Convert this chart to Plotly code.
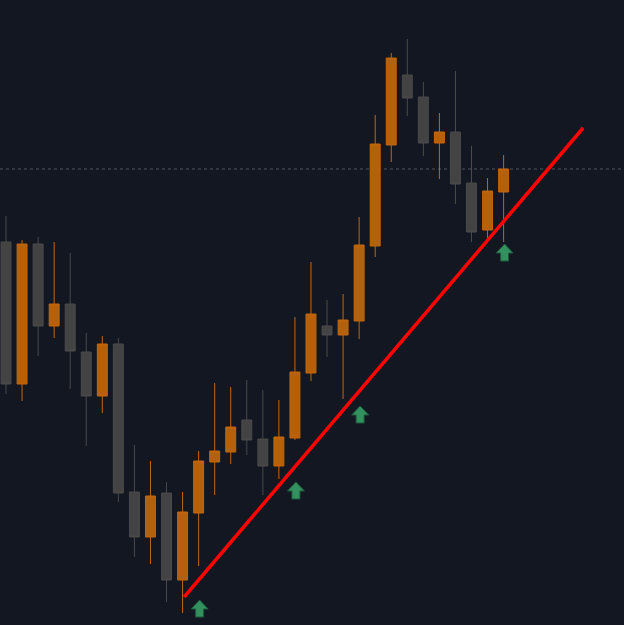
import plotly.graph_objects as go

# Candle index positions and OHLC prices
idx = list(range(32))
opens = [138.3, 124.1, 138.1, 129.9, 132.1, 127.3, 122.9, 128.1, 113.3, 108.8,
         113.2, 104.5, 111.2, 116.3, 117.3, 120.5, 118.6, 115.9, 118.7, 125.2,
         129.9, 129.0, 130.4, 137.9, 148.0, 155.0, 152.8, 148.2, 149.3, 144.2,
         139.5, 143.3]
highs = [140.9, 138.5, 138.8, 138.3, 137.2, 129.2, 128.9, 128.7, 118.0, 116.4,
         114.3, 113.3, 117.4, 124.2, 123.8, 124.5, 123.5, 122.5, 130.8, 136.3,
         132.5, 133.1, 140.8, 151.0, 157.2, 158.6, 154.3, 151.2, 155.4, 147.9,
         144.7, 147.0]
lows = [123.1, 122.4, 126.9, 128.7, 123.6, 117.9, 121.2, 112.3, 106.8, 106.1,
        102.3, 101.2, 105.9, 113.0, 116.1, 117.0, 113.0, 114.6, 118.5, 124.4,
        126.8, 122.6, 128.6, 136.8, 146.3, 150.9, 146.9, 144.6, 142.1, 138.3,
        138.7, 138.3]
closes = [124.1, 138.1, 129.9, 132.1, 127.4, 122.9, 128.1, 113.2, 108.8, 112.9,
          104.5, 111.3, 116.4, 117.4, 119.8, 118.5, 115.9, 118.8, 125.3, 131.1,
          129.0, 130.5, 138.0, 148.1, 156.7, 152.7, 148.2, 149.3, 144.1, 139.3,
          143.4, 145.6]

# Trend line end points
trend_x = [11.1, 35.95]
trend_y = [102.8, 149.7]

# Buy signal arrows (candle index, price of arrow tip)
arrow_x = [12, 18, 22, 31]
arrow_y = [102.5, 114.3, 121.9, 138.1]

BG = "#131722"
UP = "#b5600a"
UP_LINE = "#c2670c"
DOWN = "#434343"
DOWN_LINE = "#4a4a4a"

fig = go.Figure()

fig.add_trace(go.Candlestick(
    x=idx, open=opens, high=highs, low=lows, close=closes,
    increasing=dict(fillcolor=UP, line=dict(color=UP_LINE, width=1)),
    decreasing=dict(fillcolor=DOWN, line=dict(color=DOWN_LINE, width=1)),
    whiskerwidth=0,
    showlegend=False,
    hoverinfo="skip",
))

fig.add_trace(go.Scatter(
    x=trend_x, y=trend_y, mode="lines",
    line=dict(color="#ff0000", width=3.5),
    showlegend=False, hoverinfo="skip",
))

# Dotted line at last close
fig.add_shape(type="line", xref="paper", x0=0, x1=1, yref="y",
              y0=closes[-1], y1=closes[-1],
              line=dict(color="#50555f", width=1, dash="dot"), layer="below")

arrow_path = ("M 1,0 L 9.5,-9 L 5,-9 L 5,-17 L -3,-17 L -3,-9 L -7.5,-9 Z")
for ax_, ay_ in zip(arrow_x, arrow_y):
    fig.add_shape(type="path", xref="x", yref="y",
                  xsizemode="pixel", ysizemode="pixel",
                  xanchor=ax_, yanchor=ay_, path=arrow_path,
                  fillcolor="#33905f", line=dict(color="#1f5a3b", width=1),
                  layer="above")

fig.update_layout(
    width=624, height=625,
    margin=dict(l=0, r=0, t=0, b=0),
    paper_bgcolor=BG, plot_bgcolor=BG,
    boxgap=0.38, boxgroupgap=0,
    xaxis=dict(range=[-0.374, 38.5], visible=False, showgrid=False,
               rangeslider=dict(visible=False), fixedrange=True),
    yaxis=dict(range=[100, 162.5], visible=False, showgrid=False,
               fixedrange=True),
)

fig.write_html("out.html")
